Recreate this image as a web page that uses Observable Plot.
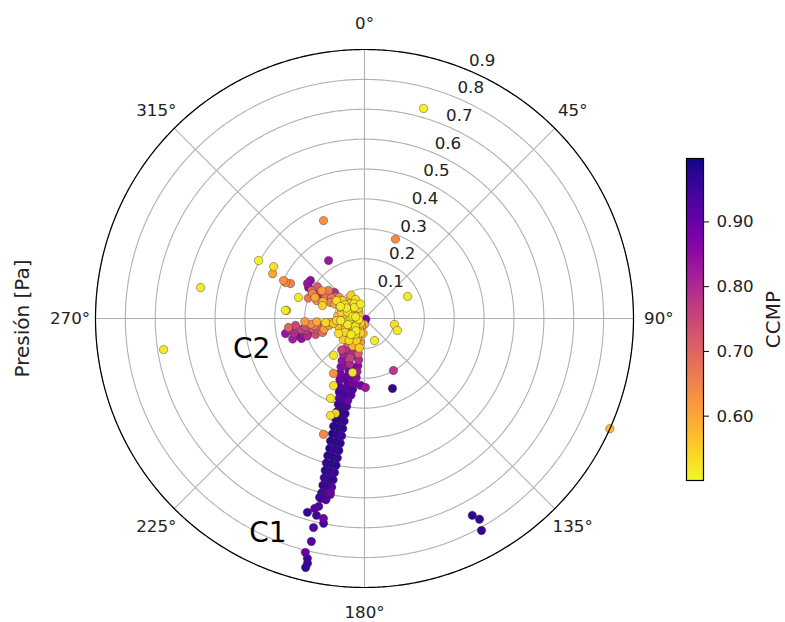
<!DOCTYPE html>
<html><head><meta charset="utf-8">
<script src="https://cdn.jsdelivr.net/npm/d3@7"></script>
<script src="https://cdn.jsdelivr.net/npm/@observablehq/plot@0.6"></script>
<style>
body{margin:0;background:#fff;}
#wrap{position:relative;width:785px;height:622px;}
#wrap svg{position:absolute;top:0;}
</style></head><body><div id="wrap"></div>
<script>
// ---- data: [theta (deg, clockwise from north), r (Pa), CCMP] ----
const bandC1 = [
[212,0.08,0.6],[200,0.08,0.55],[190,0.08,0.62],
[214,0.10,0.7],[203,0.10,0.58],[192,0.10,0.75],
[212,0.12,0.78],[202,0.12,0.8],[190,0.12,0.72],
[216,0.13,0.76],[196,0.13,0.82],
[210,0.14,0.82],[200,0.14,0.76],[188,0.14,0.8],
[208,0.16,0.84],[198,0.16,0.8],[188,0.16,0.86],
[204,0.17,0.85],[193,0.17,0.87],
[206,0.18,0.86],[197,0.18,0.88],[188,0.18,0.83],
[204,0.20,0.88],[196,0.20,0.9],[188,0.20,0.86],
[200,0.21,0.91],[192,0.21,0.89],
[202,0.22,0.9],[195,0.22,0.92],[189,0.22,0.88],
[201,0.24,0.93],[195,0.24,0.91],[189.5,0.24,0.94],
[199,0.26,0.94],[194.5,0.26,0.95],[190,0.26,0.93],
[197.5,0.28,0.93],[194.5,0.28,0.95],[191.5,0.28,0.9],
[197,0.30,0.96],[194,0.30,0.97],[191.5,0.30,0.94],
[196.5,0.325,0.97],[194,0.325,0.98],[191.5,0.325,0.96],
[196,0.35,0.98],[193.5,0.35,0.97],[191.2,0.35,0.96],
[196,0.375,0.97],[193.5,0.375,0.99],[191.2,0.375,0.96],
[195.5,0.40,0.98],[193.2,0.40,0.97],[191,0.40,0.95],
[195.5,0.425,0.97],[193,0.425,0.98],[191,0.425,0.96],
[195,0.45,0.98],[193,0.45,0.96],[191,0.45,0.97],
[195,0.475,0.97],[193,0.475,0.98],[191,0.475,0.96],
[194.8,0.50,0.96],[192.8,0.50,0.98],[191,0.50,0.97],
[194.5,0.525,0.97],[192.7,0.525,0.96],[191,0.525,0.95],
[194.2,0.55,0.95],[192.5,0.55,0.97],[191,0.55,0.96],
[194,0.575,0.96],[192.5,0.575,0.97],[191,0.575,0.93],
[193.8,0.60,0.95],[192.3,0.60,0.94],[191,0.60,0.92],
[193.6,0.62,0.95],[192,0.62,0.93],
[191.1,0.593,0.9],[194.1,0.617,0.95],[192.3,0.605,0.96],
[194.7,0.657,0.92],[193.7,0.647,0.93],[196.4,0.676,0.96],[193.7,0.678,0.95],
[191.6,0.683,0.9],[191.3,0.699,0.94],[193.7,0.72,0.93],
[193.4,0.767,0.93],[194.2,0.807,0.9],[193.4,0.825,0.95],[193.1,0.841,0.96],[193.3,0.856,0.97]
];
const bandOutliers = [
[220,0.161,0.52],[192.5,0.185,0.53],[209.4,0.211,0.63],[204.8,0.247,0.53],
[203,0.29,0.52],[199.3,0.344,0.53],[197,0.332,0.55],[199.5,0.411,0.64],
[179.2,0.231,0.83],[183.4,0.224,0.88]
];
const core = [
[220,0.02,0.55],[260,0.02,0.52],[300,0.02,0.56],[180,0.02,0.6],
[205,0.04,0.57],[230,0.04,0.53],[255,0.04,0.55],[280,0.04,0.52],[305,0.04,0.56],[330,0.04,0.54],
[210,0.06,0.53],[230,0.06,0.58],[250,0.06,0.52],[270,0.06,0.54],[290,0.06,0.53],[310,0.06,0.57],[325,0.06,0.52],
[235,0.08,0.54],[265,0.08,0.52],[285,0.08,0.55],[305,0.08,0.53],[320,0.08,0.56],
[225,0.10,0.55],[240,0.10,0.53],[250,0.09,0.57],
[195,0.05,0.55],[215,0.05,0.52],[240,0.05,0.56],[265,0.05,0.53],[295,0.05,0.55],[318,0.05,0.52],
[200,0.07,0.56],[220,0.07,0.52],[245,0.07,0.55],[260,0.07,0.53],[280,0.07,0.58],[300,0.07,0.52],[315,0.07,0.55],[335,0.07,0.53],
[215,0.09,0.54],[275,0.09,0.56],[295,0.09,0.53],[330,0.09,0.55],
[185,0.05,0.58],[190,0.10,0.55],[345,0.05,0.52],[200,0.03,0.6],[240,0.03,0.54],[280,0.03,0.52],[320,0.03,0.57],
[120,0.005,0.88]
];
const armNW = [
[295.7,0.193,0.65],[301.3,0.18,0.75],[299.7,0.162,0.8],[297.8,0.144,0.72],[295.2,0.126,0.65],
[290.6,0.171,0.63],[287.2,0.147,0.55],[304.5,0.13,0.78],[302.7,0.111,0.53],[296.6,0.09,0.52],
[307.9,0.153,0.66],[311,0.133,0.8],[309.3,0.095,0.55],[306.4,0.079,0.56],[301.6,0.224,0.84],
[305.1,0.221,0.85],[294.5,0.29,0.63],[295.3,0.274,0.65],[287.7,0.232,0.52],[275.8,0.266,0.52],
[298,0.2,0.7],[293,0.18,0.6],[300,0.15,0.68],[305,0.14,0.74],[303,0.17,0.62],[308,0.12,0.7],
[292,0.15,0.58],[296,0.11,0.6],[302,0.13,0.66],[310,0.11,0.62],[290,0.2,0.67],[304,0.19,0.72]
];
const armC2 = [
[259.2,0.269,0.84],[260.8,0.251,0.8],[255.6,0.228,0.86],[252.4,0.221,0.85],[258.5,0.201,0.78],
[259.1,0.177,0.72],[260.1,0.156,0.7],[251.9,0.172,0.74],[261.5,0.135,0.65],[251.6,0.148,0.68],
[263.3,0.114,0.58],[265.9,0.094,0.55],[264.2,0.232,0.75],[263.2,0.256,0.7],[264,0.131,0.54],
[261,0.105,0.56],[256,0.19,0.8],[262,0.2,0.74],[254,0.25,0.82],[257,0.16,0.72],[266,0.16,0.6],[267,0.2,0.62],
[258,0.24,0.8],[256,0.21,0.83],[260,0.215,0.76],[262,0.17,0.66],[255,0.14,0.62],[259,0.12,0.6],[264,0.18,0.64],[253,0.2,0.8]
];
const scattered = [
[337.3,0.355,0.63],[21.3,0.285,0.64],[328.2,0.228,0.83],[299,0.214,0.86],[298.7,0.404,0.51],
[299.7,0.35,0.53],[296,0.342,0.6],[295.1,0.299,0.63],[280.7,0.558,0.52],[261.2,0.68,0.52],
[275.9,0.262,0.55],[15.7,0.73,0.51],[62.9,0.162,0.52],[101.3,0.102,0.53],[110,0.117,0.52],
[155.6,0.081,0.52],[150.9,0.199,0.78],[158.2,0.252,0.96],[114.2,0.9,0.57],
[151.3,0.751,0.97],[150.2,0.774,0.96],[151.1,0.81,0.97]
];
const rTicks = [0.1,0.2,0.3,0.4,0.5,0.6,0.7,0.8,0.9];
const thetaTicks = [0,45,90,135,180,225,270,315];
const rMax = 0.9;
const rLabelAngle = 22.5;
const thetaLabelR = 0.985;
const ccmpTicks = [0.6,0.7,0.8,0.9];
const ccmpDomain = [0.5006, 0.998];
const annotations = [{text:"C1", theta:204.2, r:0.788},{text:"C2", theta:254.9, r:0.391}];

// ---- polar mapping via an azimuthal projection centred on the pole ----
const lon = t => 180 - t;        // 0° at top, clockwise
const lat = r => 90 - r * 100;   // r = 0.9 -> the edge

const points = [...bandC1, ...bandOutliers, ...core, ...armNW, ...armC2, ...scattered]
  .map(([theta, r, ccmp]) => ({theta, r, ccmp}))
  .sort((a, b) => b.ccmp - a.ccmp);

const ring = r => d3.geoCircle().center([0, 90]).radius(r * 100).precision(0.5)();
const font = "DejaVu Sans";
const tickFs = 16.7;

const main = Plot.plot({
  width: 785, height: 622,
  marginLeft: 95, marginRight: 152, marginTop: 49, marginBottom: 35,
  style: {fontFamily: font, fontSize: tickFs + "px", color: "#000", background: "transparent"},
  projection: {type: "azimuthal-equidistant", rotate: [0, -90], domain: ring(rMax), clip: false},
  color: {type: "linear", scheme: "plasma", reverse: true, domain: ccmpDomain},
  marks: [
    Plot.geo(rTicks, {geometry: ring, fill: "none", stroke: "#b0b0b0", strokeWidth: 1.1}),
    Plot.link(thetaTicks, {x1: t => lon(t), y1: 90, x2: t => lon(t), y2: lat(rMax), stroke: "#b0b0b0", strokeWidth: 1.1}),
    Plot.dot(points, {x: d => lon(d.theta), y: d => lat(d.r), fill: "ccmp", r: 4.2, stroke: "#333", strokeWidth: 0.5, strokeOpacity: 0.85}),
    Plot.geo([rMax], {geometry: ring, fill: "none", stroke: "#000", strokeWidth: 1.2}),
    Plot.text(rTicks, {x: lon(rLabelAngle), y: r => lat(r), text: r => r.toFixed(1), textAnchor: "start", dx: 1.5, dy: -9.5, fontSize: tickFs, fill: "#222"}),
    Plot.text(thetaTicks, {x: t => lon(t), y: lat(thetaLabelR), text: t => `${t}°`, fontSize: tickFs, fill: "#222"}),
    Plot.text(annotations, {x: d => lon(d.theta), y: d => lat(d.r), text: "text", fontSize: 28, fill: "#000"}),
    Plot.text(["Presión [Pa]"], {frameAnchor: "left", textAnchor: "middle", rotate: -90, dx: -73, fontSize: 20, fill: "#222"})
  ]
});
main.style.left = "0px";

const bar = Plot.plot({
  width: 105, height: 622,
  marginLeft: 6, marginRight: 82, marginTop: 158, marginBottom: 142,
  style: {fontFamily: font, fontSize: tickFs + "px", color: "#000", background: "transparent", overflow: "visible"},
  x: {domain: [0, 1], axis: null},
  y: {domain: ccmpDomain, label: null, axis: null},
  color: {type: "linear", scheme: "plasma", reverse: true, domain: ccmpDomain},
  marks: [
    Plot.raster({x1: 0, x2: 1, y1: ccmpDomain[0], y2: ccmpDomain[1], width: 1, height: 320, fill: (x, y) => y, imageRendering: "auto"}),
    Plot.frame({stroke: "#000", strokeWidth: 1.2}),
    Plot.axisY(ccmpTicks, {anchor: "right", tickFormat: d3.format(".2f"), tickSize: 5, tickPadding: 8, fontSize: tickFs, label: null, fill: "#222"}),
    Plot.text(["CCMP"], {frameAnchor: "right", textAnchor: "middle", rotate: -90, dx: 70, dy: 0, fontSize: 20, fill: "#222"})
  ]
});
bar.style.left = "680px";

const wrap = document.getElementById("wrap");
wrap.appendChild(main);
wrap.appendChild(bar);
</script></body></html>
